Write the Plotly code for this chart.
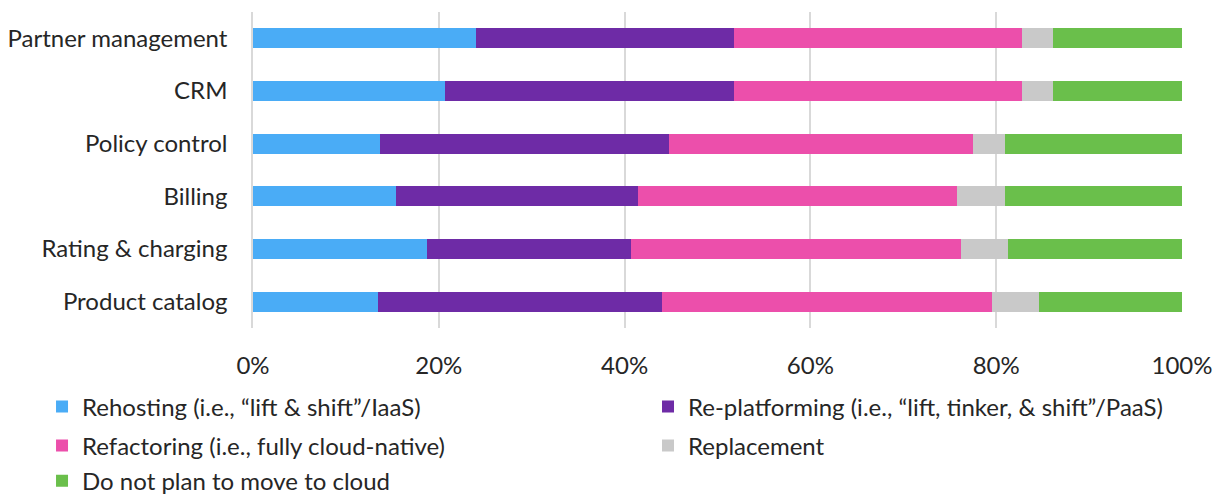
import plotly.graph_objects as go

categories = ["Partner management", "CRM", "Policy control", "Billing",
              "Rating & charging", "Product catalog"]
series_names = [
    "Rehosting (i.e., \u201clift & shift\u201d/IaaS)",
    "Re-platforming (i.e., \u201clift, tinker, & shift\u201d/PaaS)",
    "Refactoring (i.e., fully cloud-native)",
    "Replacement",
    "Do not plan to move to cloud",
]
rehosting = [24.0, 20.7, 13.7, 15.4, 18.7, 13.5]
replatforming = [27.8, 31.1, 31.1, 26.0, 22.0, 30.5]
refactoring = [31.0, 31.0, 32.7, 34.4, 35.5, 35.6]
replacement = [3.3, 3.3, 3.5, 5.2, 5.1, 5.0]
no_plan = [13.9, 13.9, 19.0, 19.0, 18.7, 15.4]
colors = ["#4AACF6", "#6E2BA6", "#EC4FAB", "#C9C9C9", "#6ABF4B"]
legend_ids = ["legend", "legend2", "legend3", "legend4", "legend5"]
legend_pos = [(-0.2271, -0.25), (0.4252, -0.25), (-0.2271, -0.373),
              (0.4252, -0.373), (-0.2271, -0.485)]
tick_vals = [0, 20, 40, 60, 80, 100]
tick_text = ["0%", "20%", "40%", "60%", "80%", "100%"]

font_family = "Lato, Open Sans, sans-serif"
text_color = "#262626"

fig = go.Figure()
for name, vals, col, lg in zip(series_names,
                               [rehosting, replatforming, refactoring, replacement, no_plan],
                               colors, legend_ids):
    fig.add_trace(go.Bar(y=categories, x=vals, name=name, orientation="h",
                         legend=lg,
                         marker=dict(color=col, line=dict(width=0))))

legends = {}
for lg, (lx, ly) in zip(legend_ids, legend_pos):
    legends[lg] = dict(orientation="h", x=lx, y=ly, xanchor="left", yanchor="middle",
                       traceorder="normal",
                       font=dict(size=24, color=text_color, family=font_family),
                       itemwidth=30, bgcolor="rgba(0,0,0,0)")

fig.update_layout(
    barmode="stack",
    bargap=0.62,
    width=1225, height=495,
    margin=dict(l=245, r=51, t=4, b=175, autoexpand=False),
    paper_bgcolor="white", plot_bgcolor="white",
    font=dict(family=font_family, size=24, color=text_color),
    showlegend=True,
    xaxis=dict(range=[0, 100], tickvals=tick_vals, ticktext=tick_text,
               showgrid=True, gridcolor="#D9D9D9", gridwidth=1.5,
               zeroline=False, showline=False, ticks="", automargin=False,
               ticklabelstandoff=21, tickfont=dict(size=24)),
    yaxis=dict(autorange="reversed", showgrid=False, zeroline=False,
               showline=True, linecolor="#D9D9D9", linewidth=1.5, automargin=False,
               ticks="", ticklabelstandoff=19, tickfont=dict(size=24)),
    **legends,
)

fig.write_html("out.html")
